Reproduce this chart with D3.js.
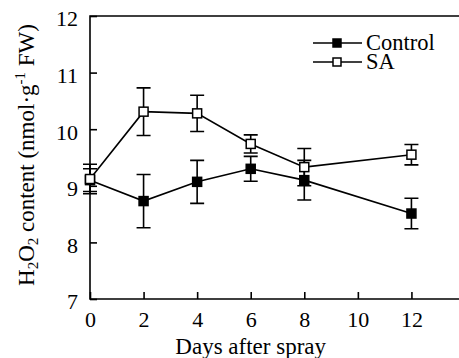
<!DOCTYPE html>
<html lang="en">
<head>
  <meta charset="UTF-8">
  <title>H2O2 content</title>
  <style>
    body { margin: 0; background: #fff; }
  </style>
</head>
<body>
  <div id="chart"></div>
  <script src="https://d3js.org/d3.v7.min.js"></script>
  <script>
    // Data
    const days = [0, 2, 4, 6, 8, 12];
    const controlMean = [9.10, 8.73, 9.07, 9.30, 9.10, 8.51];
    const controlErr  = [0.20, 0.47, 0.38, 0.22, 0.35, 0.27];
    const saMean = [9.12, 10.31, 10.28, 9.74, 9.33, 9.55];
    const saErr  = [0.26, 0.42, 0.32, 0.16, 0.33, 0.18];
    const xTicks = [0, 2, 4, 6, 8, 10, 12];
    const yTicks = [7, 8, 9, 10, 11, 12];

    const width = 459, height = 358;
    const serif = "'Liberation Serif', 'Times New Roman', serif";
    const svg = d3.select("#chart").append("svg")
      .attr("width", width).attr("height", height)
      .attr("font-family", serif);

    const x = d3.scaleLinear().domain([0, 14]).range([90, 465]);
    const y = d3.scaleLinear().domain([7, 12]).range([299, 16]);

    // frame: top line + left/bottom axes (right side runs off the picture)
    svg.append("path")
      .attr("d", `M${x(14)},${y(12)}H${x(0)}V${y(7)}H${x(14)}`)
      .attr("fill", "none").attr("stroke", "#000").attr("stroke-width", 1.6);

    // inward ticks
    const xAxis = d3.axisBottom(x).tickValues(xTicks).tickFormat(d3.format("d"))
      .tickSizeInner(-7).tickSizeOuter(0).tickPadding(12);
    const gx = svg.append("g").attr("transform", `translate(0,${y(7)})`).call(xAxis)
      .attr("font-family", serif).attr("font-size", 22);
    gx.select(".domain").remove();
    gx.selectAll("line").attr("stroke-width", 1.6);

    const yAxis = d3.axisLeft(y).tickValues(yTicks).tickFormat(d3.format("d"))
      .tickSizeInner(-7).tickSizeOuter(0).tickPadding(12);
    const gy = svg.append("g").attr("transform", `translate(${x(0)},0)`).call(yAxis)
      .attr("font-family", serif).attr("font-size", 22);
    gy.select(".domain").remove();
    gy.selectAll("line").attr("stroke-width", 1.6);
    gy.selectAll("text").attr("dy", "0.45em");

    function drawSeries(mean, err, fill) {
      const pts = days.map((d, i) => ({ d, m: mean[i], e: err[i] }));
      const g = svg.append("g");
      // error bars
      pts.forEach(p => {
        const cx = x(p.d);
        g.append("path")
          .attr("d", `M${cx},${y(p.m - p.e)}V${y(p.m + p.e)}` +
                     `M${cx - 7},${y(p.m + p.e)}H${cx + 7}` +
                     `M${cx - 7},${y(p.m - p.e)}H${cx + 7}`)
          .attr("fill", "none").attr("stroke", "#000").attr("stroke-width", 1.6);
      });
      g.append("path")
        .datum(pts)
        .attr("d", d3.line().x(p => x(p.d)).y(p => y(p.m)))
        .attr("fill", "none").attr("stroke", "#000").attr("stroke-width", 1.6);
      g.selectAll("rect").data(pts).join("rect")
        .attr("x", p => x(p.d) - 4.5).attr("y", p => y(p.m) - 4.5)
        .attr("width", 9).attr("height", 9)
        .attr("fill", fill).attr("stroke", "#000").attr("stroke-width", 1.5);
    }
    drawSeries(controlMean, controlErr, "#000");
    drawSeries(saMean, saErr, "#fff");

    // legend
    const legend = [{ name: "Control", fill: "#000", y: 43 }, { name: "SA", fill: "#fff", y: 62 }];
    legend.forEach(l => {
      svg.append("line").attr("x1", 313).attr("x2", 362).attr("y1", l.y).attr("y2", l.y)
        .attr("stroke", "#000").attr("stroke-width", 1.6);
      svg.append("rect").attr("x", 333).attr("y", l.y - 4).attr("width", 8).attr("height", 8)
        .attr("fill", l.fill).attr("stroke", "#000").attr("stroke-width", 1.5);
      svg.append("text").attr("x", 366).attr("y", l.y + 7).attr("font-size", 22.5).text(l.name);
    });

    // axis titles
    svg.append("text").attr("x", x(6)).attr("y", 354).attr("text-anchor", "middle")
      .attr("font-size", 23).text("Days after spray");

    const yl = svg.append("text")
      .attr("transform", `translate(34,155) rotate(-90)`)
      .attr("text-anchor", "middle").attr("font-size", 23);
    yl.append("tspan").text("H");
    yl.append("tspan").attr("font-size", 15).attr("dy", 4).text("2");
    yl.append("tspan").attr("dy", -4).text("O");
    yl.append("tspan").attr("font-size", 15).attr("dy", 4).text("2");
    yl.append("tspan").attr("dy", -4).text(" content (nmol·g");
    yl.append("tspan").attr("font-size", 15).attr("dy", -9).text("-1");
    yl.append("tspan").attr("dy", 9).text(" FW)");
  </script>
</body>
</html>
